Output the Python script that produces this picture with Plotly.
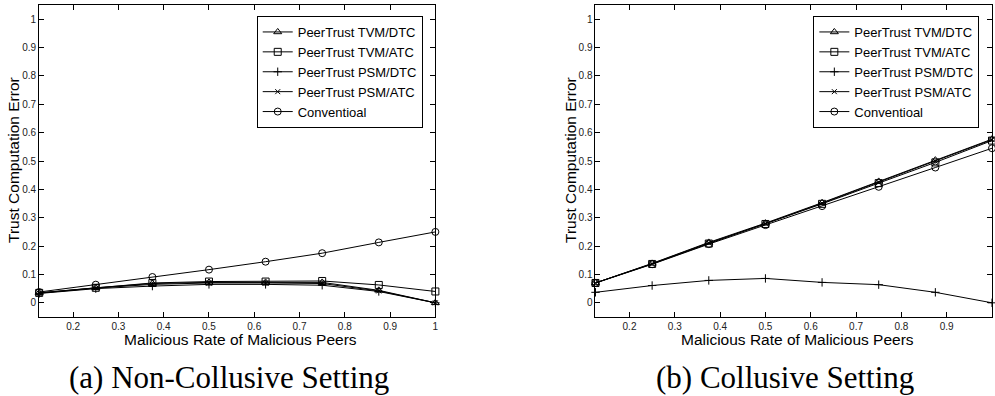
import plotly.graph_objects as go

x_vals = [0.125, 0.25, 0.375, 0.5, 0.625, 0.75, 0.875, 1.0]
series_names = ["PeerTrust TVM/DTC", "PeerTrust TVM/ATC", "PeerTrust PSM/DTC",
                "PeerTrust PSM/ATC", "Conventioal"]

# (a) Non-Collusive Setting
nc_tvm_dtc = [0.035, 0.053, 0.068, 0.072, 0.072, 0.072, 0.044, 0.000]
nc_tvm_atc = [0.035, 0.053, 0.070, 0.075, 0.075, 0.077, 0.063, 0.040]
nc_psm_dtc = [0.033, 0.050, 0.059, 0.065, 0.065, 0.062, 0.040, 0.000]
nc_psm_atc = [0.034, 0.052, 0.065, 0.070, 0.070, 0.068, 0.042, 0.000]
nc_conv = [0.038, 0.064, 0.091, 0.117, 0.145, 0.175, 0.213, 0.250]

# (b) Collusive Setting
c_tvm_dtc = [0.070, 0.139, 0.213, 0.281, 0.353, 0.428, 0.503, 0.577]
c_tvm_atc = [0.070, 0.137, 0.209, 0.278, 0.349, 0.422, 0.495, 0.572]
c_psm_dtc = [0.037, 0.061, 0.079, 0.086, 0.072, 0.064, 0.037, 0.000]
c_psm_atc = [0.070, 0.138, 0.211, 0.279, 0.351, 0.425, 0.499, 0.575]
c_conv = [0.070, 0.136, 0.207, 0.274, 0.341, 0.409, 0.477, 0.545]

x_ticks = [0.2, 0.3, 0.4, 0.5, 0.6, 0.7, 0.8, 0.9, 1.0]
y_ticks = [0, 0.1, 0.2, 0.3, 0.4, 0.5, 0.6, 0.7, 0.8, 0.9, 1.0]

x_title = "Malicious Rate of Malicious Peers"
y_title = "Trust Computation Error"
captions = ["(a) Non-Collusive Setting", "(b) Collusive Setting"]

symbols = ["triangle-up-open", "square-open", "cross-thin-open", "x-thin-open", "circle-open"]
msizes = [7, 7, 6, 5, 7]

W, H = 995, 396


def px(x):
    return x / W


def py(y):
    return 1 - y / H


fig = go.Figure()

panels = [
    ([nc_tvm_dtc, nc_tvm_atc, nc_psm_dtc, nc_psm_atc, nc_conv], "x", "y", "legend"),
    ([c_tvm_dtc, c_tvm_atc, c_psm_dtc, c_psm_atc, c_conv], "x2", "y2", "legend2"),
]
for ys, xa, ya, lg in panels:
    for name, y, sym, ms in zip(series_names, ys, symbols, msizes):
        fig.add_trace(go.Scatter(
            x=x_vals, y=y, name=name, mode="lines+markers",
            xaxis=xa, yaxis=ya, legend=lg, cliponaxis=False,
            line=dict(color="black", width=1),
            marker=dict(symbol=sym, size=ms, color="black",
                        line=dict(color="black", width=1)),
        ))

axis_common = dict(
    showline=True, linecolor="black", linewidth=1, mirror="ticks",
    ticks="inside", ticklen=5, tickwidth=1, tickcolor="black",
    showgrid=False, zeroline=False,
    tickfont=dict(family="Liberation Sans, Arial, sans-serif", size=10, color="#222"),
)

y0, y1 = py(317), py(5)
legend_common = dict(
    yanchor="top", y=py(16), xanchor="right",
    bordercolor="black", borderwidth=1, bgcolor="white",
    itemwidth=30, tracegroupgap=0,
    font=dict(family="Liberation Sans, Arial, sans-serif", size=13, color="black"),
)
fig.update_layout(
    width=W, height=H,
    margin=dict(l=0, r=0, t=0, b=0),
    paper_bgcolor="white", plot_bgcolor="white",
    xaxis=dict(domain=[px(39.3), px(436.7)], range=[0.125, 1.0], tickvals=x_ticks,
               anchor="y", **axis_common),
    yaxis=dict(domain=[y0, y1], range=[-0.05, 1.05], tickvals=y_ticks,
               anchor="x", **axis_common),
    xaxis2=dict(domain=[px(597.3), 1.0], range=[0.125, 1.0], tickvals=x_ticks,
                anchor="y2", **axis_common),
    yaxis2=dict(domain=[y0, y1], range=[-0.05, 1.05], tickvals=y_ticks,
                anchor="x2", **axis_common),
    legend=dict(x=px(424), **legend_common),
    legend2=dict(x=px(982.3), **legend_common),
    showlegend=True,
)

sans = dict(family="Liberation Sans, Arial, sans-serif", size=15.5, color="black")
serif = dict(family="Liberation Serif, Times New Roman, serif", size=31, color="black")
ann = []
for cx, ycx, capx, cap in [(241.5, 14, 229.5, captions[0]), (799.7, 572.7, 787.5, captions[1])]:
    ann.append(dict(text=x_title, x=px(cx), y=py(339), xref="paper", yref="paper",
                    xanchor="center", yanchor="middle", showarrow=False, font=sans))
    ann.append(dict(text=y_title, x=px(ycx), y=py(160), xref="paper", yref="paper",
                    xanchor="center", yanchor="middle", showarrow=False, textangle=-90, font=sans))
    ann.append(dict(text=cap, x=px(capx), y=py(377), xref="paper", yref="paper",
                    xanchor="center", yanchor="middle", showarrow=False, font=serif))
fig.update_layout(annotations=ann)

# remove the browser's default 8px body margin so the figure sits at the page origin
fig.write_html("out.html", config={"displayModeBar": False},
               post_script="document.body.style.margin='0';")
